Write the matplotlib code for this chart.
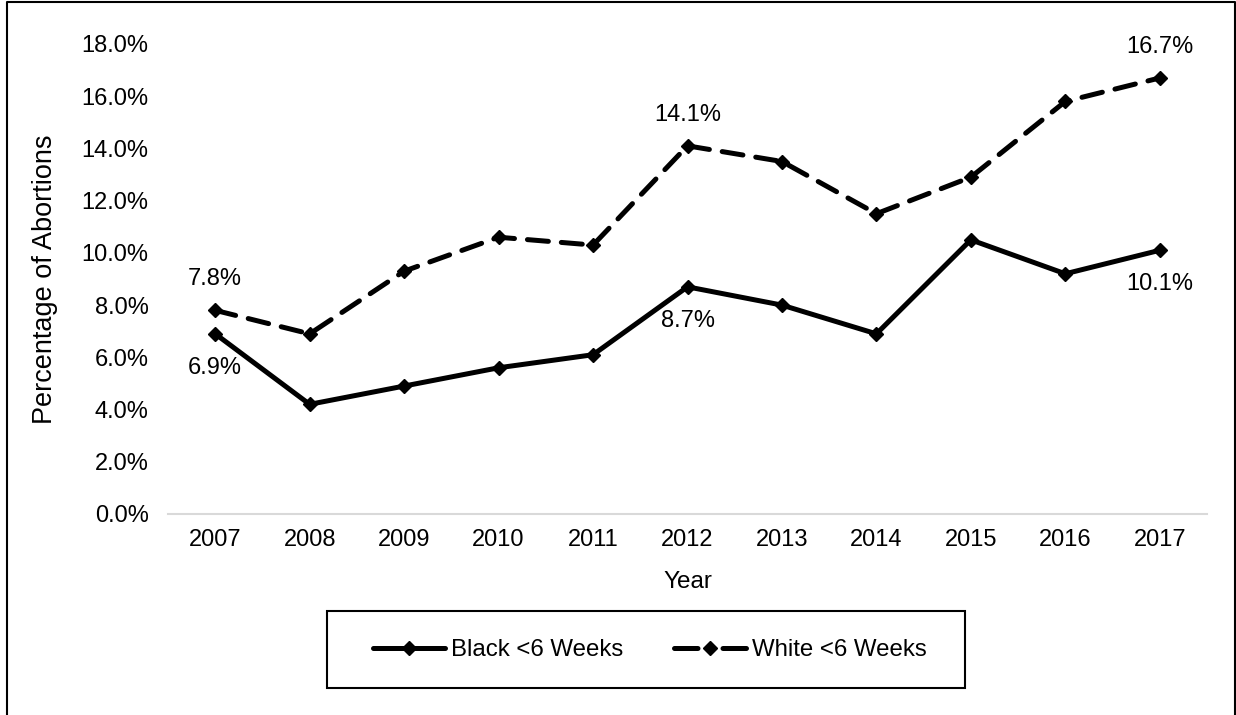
import matplotlib
matplotlib.use("Agg")
import matplotlib.pyplot as plt
from matplotlib.patches import Rectangle
from matplotlib.lines import Line2D

plt.rcParams['font.family'] = ['Liberation Sans', 'DejaVu Sans']

years = ['2007', '2008', '2009', '2010', '2011', '2012', '2013', '2014', '2015', '2016', '2017']
black_lt6 = [6.9, 4.2, 4.9, 5.6, 6.1, 8.7, 8.0, 6.9, 10.5, 9.2, 10.1]
white_lt6 = [7.8, 6.9, 9.3, 10.6, 10.3, 14.1, 13.5, 11.5, 12.9, 15.8, 16.7]
yticks = [0, 2, 4, 6, 8, 10, 12, 14, 16, 18]

# which points carry a data label, and whether it sits above or below
black_labels = {0: 'below', 5: 'below', 10: 'below'}
white_labels = {0: 'above', 5: 'above', 10: 'above'}

W, H = 1236, 715
fs = 17
fig = plt.figure(figsize=(W / 100, H / 100), dpi=100)
ax = fig.add_axes([168 / W, 1 - 514 / H, (1207 - 168) / W, (514 - 44) / H])

x = list(range(len(years)))
lw = 3.6
ms = 6.8
ax.plot(x, black_lt6, color='black', lw=lw, marker='D', ms=ms,
        solid_capstyle='round', solid_joinstyle='round')
ax.plot(x, white_lt6, color='black', lw=lw, marker='D', ms=ms,
        dashes=(4.2, 2.6), dash_capstyle='round')

for i, pos in black_labels.items():
    off = -34 if pos == 'below' else 31
    ax.annotate(f"{black_lt6[i]:.1f}%", (x[i], black_lt6[i]), xytext=(0, off * 0.72),
                textcoords='offset points', ha='center', va='center', fontsize=fs)
for i, pos in white_labels.items():
    off = -34 if pos == 'below' else 31
    ax.annotate(f"{white_lt6[i]:.1f}%", (x[i], white_lt6[i]), xytext=(0, off * 0.72),
                textcoords='offset points', ha='center', va='center', fontsize=fs)

ax.set_xlim(-0.5, len(years) - 0.5)
ax.set_ylim(0, 18)
ax.set_xticks(x)
ax.set_xticklabels(years, fontsize=fs)
ax.set_yticks(yticks)
ax.set_yticklabels([f"{v:.1f}%" for v in yticks], fontsize=fs)
ax.tick_params(axis='both', length=0)
ax.tick_params(axis='y', pad=14)
ax.tick_params(axis='x', pad=11)
for s in ['top', 'right', 'left']:
    ax.spines[s].set_visible(False)
ax.spines['bottom'].set_color('#d9d9d9')
ax.spines['bottom'].set_linewidth(1.5)

ax.set_xlabel('Year', fontsize=17.5)
ax.set_ylabel('Percentage of Abortions', fontsize=19.5)
ax.xaxis.set_label_coords(0.5, -0.121)
ax.yaxis.set_label_coords(-0.106, 0.5)

# legend box drawn separately so its size matches the original
fig.add_artist(Rectangle((327 / W, 1 - 688 / H), (965 - 327) / W, (688 - 611) / H,
                         transform=fig.transFigure, fill=False, edgecolor='black', lw=1.5))
h_black = Line2D([], [], color='black', lw=lw, marker='D', ms=ms, solid_capstyle='round')
h_white = Line2D([], [], color='black', lw=lw, marker='D', ms=ms,
                 dashes=(4.7, 5.0), dash_capstyle='round')
fig.legend([h_black, h_white], ['Black <6 Weeks', 'White <6 Weeks'],
           loc='center', bbox_to_anchor=(650 / W, 1 - 650 / H), ncol=2, frameon=False,
           fontsize=17.3, handlelength=3.0, handletextpad=0.25, columnspacing=2.1)

# outer chart border
bx = [7 / W, 7 / W, 1235 / W, 1235 / W]
by = [0, 1 - 1.5 / H, 1 - 1.5 / H, 0]
fig.add_artist(Line2D(bx, by, transform=fig.transFigure, color='black', lw=1.5))

fig.savefig('out.png', dpi=100)
